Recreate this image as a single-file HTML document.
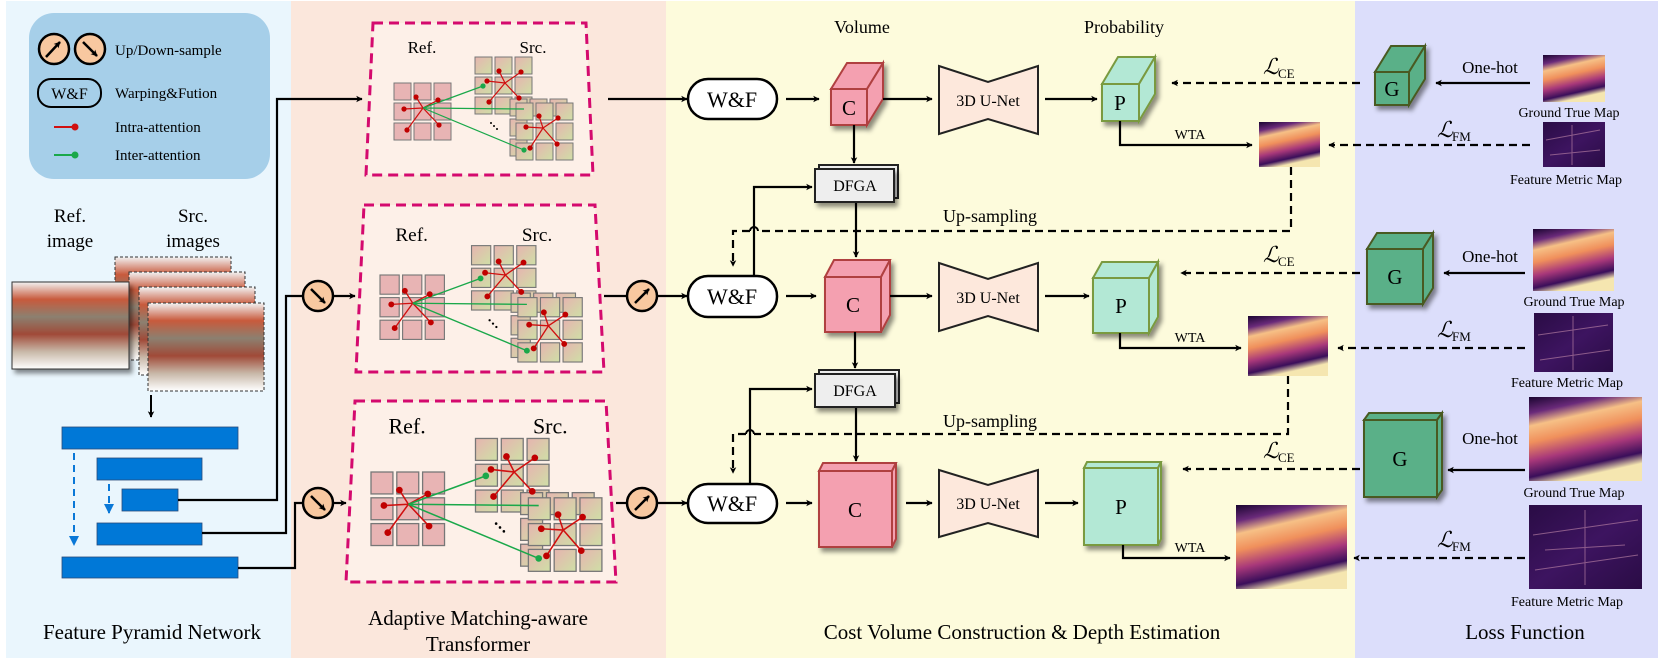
<!DOCTYPE html>
<html><head><meta charset="utf-8"><style>
html,body{margin:0;padding:0;background:#fff;}
svg{display:block;}
svg text{font-family:"Liberation Serif","DejaVu Serif",serif;}
svg text.ls{font-family:"DejaVu Serif",serif;}
</style></head><body>
<svg width="1660" height="661" viewBox="0 0 1660 661" xmlns="http://www.w3.org/2000/svg" font-family="Liberation Serif, DejaVu Serif, serif">
<defs>
<marker id="ah" viewBox="0 0 10 10" refX="9" refY="5" markerWidth="5" markerHeight="5" orient="auto" markerUnits="userSpaceOnUse" style="overflow:visible">
<path d="M0,0 L10,5 L0,10 L2.5,5 z" fill="#000" transform="scale(1.3) translate(-2,-1.2)"/></marker>
<marker id="ab" viewBox="0 0 10 10" refX="9" refY="5" markerWidth="10" markerHeight="10" orient="auto" markerUnits="userSpaceOnUse">
<path d="M0,0 L10,5 L0,10 z" fill="#0a78d7"/></marker>
<filter id="sh" x="-20%" y="-20%" width="150%" height="150%"><feDropShadow dx="3" dy="4" stdDeviation="2.5" flood-color="#000" flood-opacity="0.45"/></filter>
<linearGradient id="srcg" x1="0" y1="0" x2="1" y2="1"><stop offset="0" stop-color="#e6b4b0"/><stop offset="1" stop-color="#cfdfa6"/></linearGradient>
<linearGradient id="dep" x1="0" y1="0" x2="0.3" y2="1"><stop offset="0" stop-color="#1a0530"/><stop offset="0.18" stop-color="#6a2a7a"/><stop offset="0.32" stop-color="#f6c086"/><stop offset="0.5" stop-color="#f0905c"/><stop offset="0.7" stop-color="#a8387a"/><stop offset="0.88" stop-color="#3a0e5a"/><stop offset="1" stop-color="#f5e6b0"/></linearGradient>
<linearGradient id="fm" x1="0" y1="0" x2="1" y2="1"><stop offset="0" stop-color="#2a0c45"/><stop offset="0.5" stop-color="#3d1460"/><stop offset="1" stop-color="#2a0c45"/></linearGradient>
<linearGradient id="bld" x1="0" y1="0" x2="0" y2="1"><stop offset="0" stop-color="#f2f2f2"/><stop offset="0.2" stop-color="#c85a3c"/><stop offset="0.4" stop-color="#8c8070"/><stop offset="0.6" stop-color="#a04a38"/><stop offset="0.8" stop-color="#c8b8a8"/><stop offset="1" stop-color="#ffffff"/></linearGradient>
<g id="att">
 <g stroke="#777" stroke-width="1">
  <g fill="#e8b4b4">
   <rect x="0" y="0" width="17" height="17"/><rect x="20" y="0" width="17" height="17"/><rect x="40" y="0" width="17" height="17"/>
   <rect x="0" y="20" width="17" height="17"/><rect x="20" y="20" width="17" height="17"/><rect x="40" y="20" width="17" height="17"/>
   <rect x="0" y="40" width="17" height="17"/><rect x="20" y="40" width="17" height="17"/><rect x="40" y="40" width="17" height="17"/>
  </g>
  <g fill="url(#srcg)" transform="translate(81,-26)">
   <rect x="0" y="0" width="17" height="17"/><rect x="20" y="0" width="17" height="17"/><rect x="40" y="0" width="17" height="17"/>
   <rect x="0" y="20" width="17" height="17"/><rect x="20" y="20" width="17" height="17"/><rect x="40" y="20" width="17" height="17"/>
   <rect x="0" y="40" width="17" height="17"/><rect x="20" y="40" width="17" height="17"/><rect x="40" y="40" width="17" height="17"/>
  </g>
  <g fill="url(#srcg)" transform="translate(116,16)">
   <rect x="0" y="0" width="17" height="17"/><rect x="20" y="0" width="17" height="17"/><rect x="40" y="0" width="17" height="17"/>
   <rect x="0" y="20" width="17" height="17"/><rect x="0" y="40" width="17" height="17"/>
  </g>
  <g fill="url(#srcg)" transform="translate(122,20)">
   <rect x="0" y="0" width="17" height="17"/><rect x="20" y="0" width="17" height="17"/><rect x="40" y="0" width="17" height="17"/>
   <rect x="0" y="20" width="17" height="17"/><rect x="20" y="20" width="17" height="17"/><rect x="40" y="20" width="17" height="17"/>
   <rect x="0" y="40" width="17" height="17"/><rect x="20" y="40" width="17" height="17"/><rect x="40" y="40" width="17" height="17"/>
  </g>
 </g>
 <g stroke="#d01010" stroke-width="1.2" fill="none">
  <path d="M29,25 L22,14 M29,25 L44,17 M29,25 L10,26 M29,25 L13,47 M29,25 L45,42"/>
  <path d="M111,0 L93,-2 M111,0 L105,-12 M111,0 L127,-11 M111,0 L95,19 M111,0 L125,15"/>
  <path d="M149,45 L145,33 M149,45 L164,35 M149,45 L132,44 M149,45 L136,65 M149,45 L163,61"/>
 </g>
 <g stroke="#1aa84a" stroke-width="1.2"><path d="M29,25 L89,3 M29,25 L130,26 M29,25 L130,67"/></g>
 <g fill="#c00000">
  <circle cx="22" cy="14" r="2.6"/><circle cx="44" cy="17" r="2.6"/><circle cx="10" cy="26" r="2.6"/><circle cx="13" cy="47" r="2.6"/><circle cx="45" cy="42" r="2.6"/>
  <circle cx="93" cy="-2" r="2.6"/><circle cx="105" cy="-12" r="2.6"/><circle cx="127" cy="-11" r="2.6"/><circle cx="95" cy="19" r="2.6"/><circle cx="125" cy="15" r="2.6"/>
  <circle cx="145" cy="33" r="2.6"/><circle cx="164" cy="35" r="2.6"/><circle cx="132" cy="44" r="2.6"/><circle cx="136" cy="65" r="2.6"/><circle cx="163" cy="61" r="2.6"/>
 </g>
 <g fill="#1aa84a"><circle cx="89" cy="3" r="2.6"/><circle cx="130" cy="67" r="2.6"/></g>
 <g fill="#000"><circle cx="97" cy="40" r="1"/><circle cx="100" cy="43" r="1"/><circle cx="103" cy="46" r="1"/></g>
 <text x="28" y="-30" font-size="17" text-anchor="middle">Ref.</text>
 <text x="139" y="-30" font-size="17" text-anchor="middle">Src.</text>
</g>
</defs>

<rect x="6" y="1" width="285" height="657" fill="#eaf6fd"/>
<rect x="291" y="1" width="375" height="657" fill="#fbe7dc"/>
<rect x="666" y="1" width="689" height="657" fill="#fdfbdc"/>
<rect x="1355" y="1" width="303" height="657" fill="#dcdefb"/>

<rect x="29" y="13" width="241" height="166" rx="25" fill="#a6cfe9"/>
<g stroke="#000" stroke-width="2.5" fill="#f8c8a0">
<circle cx="54" cy="49" r="15"/><circle cx="90" cy="49" r="15"/></g>
<g stroke="#000" stroke-width="2.5" marker-end="url(#ah)"><path d="M46,57 L60,42"/><path d="M83,42 L97,56"/></g>
<text x="115" y="55" font-size="15">Up/Down-sample</text>
<rect x="38" y="79" width="63" height="28" rx="13" fill="none" stroke="#000" stroke-width="2"/>
<text x="69.5" y="99" font-size="16" text-anchor="middle">W&amp;F</text>
<text x="115" y="98" font-size="15">Warping&amp;Fution</text>
<path d="M54,127 L74,127" stroke="#d01010" stroke-width="2"/><circle cx="75" cy="127" r="3.5" fill="#d01010"/>
<text x="115" y="132" font-size="15">Intra-attention</text>
<path d="M54,155 L74,155" stroke="#1aa84a" stroke-width="2"/><circle cx="75" cy="155" r="3.5" fill="#1aa84a"/>
<text x="115" y="160" font-size="15">Inter-attention</text>

<text x="70" y="222" font-size="19" text-anchor="middle">Ref.</text>
<text x="70" y="247" font-size="19" text-anchor="middle">image</text>
<text x="193" y="222" font-size="19" text-anchor="middle">Src.</text>
<text x="193" y="247" font-size="19" text-anchor="middle">images</text>
<g stroke="#333" stroke-width="1" stroke-dasharray="3 2">
<rect x="115" y="257" width="116" height="88" fill="url(#bld)"/>
<rect x="129" y="272" width="116" height="88" fill="url(#bld)"/>
<rect x="139" y="287" width="116" height="88" fill="url(#bld)"/>
<rect x="148" y="303" width="116" height="88" fill="url(#bld)"/>
</g>
<rect x="12" y="282" width="117" height="87" fill="url(#bld)" stroke="#333" stroke-width="1" filter="url(#sh)"/>
<path d="M151,395 L151,417" stroke="#000" stroke-width="2" marker-end="url(#ah)"/>

<g fill="#0078d7" stroke="#2a4a7a" stroke-width="0.8">
<rect x="62" y="427" width="176" height="22"/><rect x="97" y="458" width="105" height="22"/>
<rect x="122" y="489" width="56" height="22"/><rect x="97" y="523" width="105" height="22"/>
<rect x="62" y="557" width="176" height="21"/></g>
<g stroke="#0a78d7" stroke-width="2" stroke-dasharray="7 5" fill="none">
<path d="M74,453 L74,545" marker-end="url(#ab)"/><path d="M109,484 L109,513" marker-end="url(#ab)"/></g>
<g stroke="#000" stroke-width="2.2" fill="none">
<path d="M178,500 L277,500 L277,99 L362,99" marker-end="url(#ah)"/>
<path d="M202,533 L286,533 L286,296 L302,296"/>
<path d="M238,568 L295,568 L295,503 L302,503"/>
<path d="M334,296 L355,296" marker-end="url(#ah)"/>
<path d="M334,503 L346,503" marker-end="url(#ah)"/>
</g>
<g stroke="#000" stroke-width="2.5" fill="#f8c8a0"><circle cx="318" cy="296" r="15"/><circle cx="318" cy="503" r="15"/></g>
<g stroke="#000" stroke-width="2.5" marker-end="url(#ah)"><path d="M311,289 L325,303"/><path d="M311,496 L325,510"/></g>

<g fill="#fdf0e8" stroke="#d40a6e" stroke-width="3" stroke-dasharray="10 6">
<path d="M373,23 L586,23 L593,175 L366,175 Z"/>
<path d="M364,205 L595,205 L604,372 L356,372 Z"/>
<path d="M355,401 L606,401 L616,582 L346,582 Z"/>
</g>
<use href="#att" transform="translate(394,83)"/>
<use href="#att" transform="translate(380,275) scale(1.13)"/>
<use href="#att" transform="translate(371,472) scale(1.29)"/>

<text x="478" y="625" font-size="21" text-anchor="middle">Adaptive Matching-aware</text>
<text x="478" y="651" font-size="21" text-anchor="middle">Transformer</text>
<text x="152" y="639" font-size="21" text-anchor="middle">Feature Pyramid Network</text>

<g stroke="#000" stroke-width="2.2" fill="none">
<path d="M608,99 L687,99" marker-end="url(#ah)"/>
<path d="M604,296 L627,296"/><path d="M658,296 L687,296" marker-end="url(#ah)"/>
<path d="M616,503 L627,503"/><path d="M658,503 L687,503" marker-end="url(#ah)"/>
</g>
<g stroke="#000" stroke-width="2.5" fill="#f8c8a0"><circle cx="642" cy="296" r="15"/><circle cx="642" cy="503" r="15"/></g>
<g stroke="#000" stroke-width="2.5" marker-end="url(#ah)"><path d="M635,303 L649,289"/><path d="M635,510 L649,496"/></g>

<g fill="#fff" stroke="#000" stroke-width="2.5">
<rect x="688" y="79" width="89" height="40" rx="20"/>
<rect x="688" y="276" width="89" height="41" rx="20"/>
<rect x="688" y="484" width="89" height="39" rx="20"/></g>
<g font-size="22" text-anchor="middle"><text x="732" y="107">W&amp;F</text><text x="732" y="304">W&amp;F</text><text x="732" y="511">W&amp;F</text></g>

<text x="862" y="33" font-size="18" text-anchor="middle">Volume</text>
<text x="1124" y="33" font-size="18" text-anchor="middle">Probability</text>

<g stroke="#b04040" stroke-width="2" fill="#f4a0b0" filter="url(#sh)">
<g><rect x="831" y="89" width="36" height="36"/><polygon points="831,89 847,63 883,63 867,89"/><polygon points="867,89 883,63 883,99 867,125"/></g>
<g><rect x="825" y="277" width="56" height="55"/><polygon points="825,277 834,260 890,260 881,277"/><polygon points="881,277 890,260 890,315 881,332"/></g>
<g><rect x="819" y="471" width="73" height="76"/><polygon points="819,471 823,463 896,463 892,471"/><polygon points="892,471 896,463 896,539 892,547"/></g>
</g>
<g font-size="21" text-anchor="middle"><text x="849" y="115">C</text><text x="853" y="312">C</text><text x="855" y="517">C</text></g>

<g fill="#fde8dc" stroke="#222" stroke-width="2">
<polygon points="939,66 988,82 1038,66 1038,134 988,119 939,134"/>
<polygon points="939,263 988,279 1038,263 1038,331 988,316 939,331"/>
<polygon points="939,470 988,485 1038,470 1038,537 988,523 939,537"/></g>
<g font-size="16" text-anchor="middle"><text x="988" y="106">3D U-Net</text><text x="988" y="303">3D U-Net</text><text x="988" y="509">3D U-Net</text></g>

<g stroke="#7a9a40" stroke-width="2" fill="#b3e8d5" filter="url(#sh)">
<g><rect x="1102" y="84" width="37" height="37"/><polygon points="1102,84 1118,57 1155,57 1139,84"/><polygon points="1139,84 1155,57 1155,94 1139,121"/></g>
<g><rect x="1093" y="278" width="56" height="55"/><polygon points="1093,278 1102,262 1158,262 1149,278"/><polygon points="1149,278 1158,262 1158,317 1149,333"/></g>
<g><rect x="1084" y="468" width="74" height="77"/><polygon points="1084,468 1087,462 1161,462 1158,468"/><polygon points="1158,468 1161,462 1161,539 1158,545"/></g>
</g>
<g font-size="21" text-anchor="middle"><text x="1120" y="110">P</text><text x="1121" y="313">P</text><text x="1121" y="514">P</text></g>

<g stroke="#000" stroke-width="2.2" fill="none" marker-end="url(#ah)">
<path d="M786,99 L819,99"/><path d="M786,296 L816,296"/><path d="M786,503 L812,503"/>
<path d="M883,99 L932,99"/><path d="M890,296 L932,296"/><path d="M906,503 L932,503"/>
<path d="M1045,99 L1097,99"/><path d="M1045,296 L1089,296"/><path d="M1045,503 L1078,503"/>
<path d="M854,125 L854,163"/><path d="M855,332 L855,368"/>
<path d="M856,202 L856,257"/><path d="M856,407 L856,461"/>
<path d="M754,276 L754,187 L812,187"/><path d="M750,483 L750,389 L812,389"/>
<path d="M1120,121 L1120,145 L1252,145"/><path d="M1120,333 L1120,348 L1241,348"/><path d="M1123,545 L1123,558 L1230,558"/>
</g>
<g font-size="14" text-anchor="middle"><text x="1190" y="139">WTA</text><text x="1190" y="342">WTA</text><text x="1190" y="552">WTA</text></g>

<g fill="#eee" stroke="#222" stroke-width="2">
<rect x="819" y="165" width="79" height="33"/><rect x="815" y="169" width="79" height="33" filter="url(#sh)"/>
<rect x="819" y="370" width="80" height="33"/><rect x="815" y="374" width="80" height="33" filter="url(#sh)"/></g>
<g font-size="16" text-anchor="middle"><text x="855" y="191">DFGA</text><text x="855" y="396">DFGA</text></g>

<g stroke="#000" stroke-width="2.2" fill="none" stroke-dasharray="8 5">
<path d="M1291,167 L1291,231 L758,231 M750,231 L733,231 L733,266" marker-end="url(#ah)"/>
<path d="M1288,376 L1288,434 L754,434 M746,434 L733,434 L733,473" marker-end="url(#ah)"/>
</g>
<path d="M750,231 A4,4 0 0 1 758,231" stroke="#000" stroke-width="2" fill="none"/>
<path d="M746,434 A4,4 0 0 1 754,434" stroke="#000" stroke-width="2" fill="none"/>
<g font-size="18" text-anchor="middle"><text x="990" y="222">Up-sampling</text><text x="990" y="427">Up-sampling</text></g>

<rect x="1259" y="122" width="61" height="45" fill="url(#dep)"/>
<rect x="1248" y="316" width="80" height="60" fill="url(#dep)"/>
<rect x="1236" y="505" width="111" height="84" fill="url(#dep)"/>

<g stroke="#000" stroke-width="2.2" fill="none" stroke-dasharray="8 5" marker-end="url(#ah)">
<path d="M1360,83 L1172,83"/><path d="M1360,273 L1181,273"/><path d="M1360,469 L1183,469"/>
<path d="M1530,145 L1329,145"/><path d="M1525,348 L1338,348"/><path d="M1525,558 L1354,558"/>
</g>
<g font-size="22" font-style="italic">
<text class="ls" x="1263" y="74">ℒ</text><text class="ls" x="1263" y="262">ℒ</text><text class="ls" x="1263" y="458">ℒ</text>
<text class="ls" x="1437" y="137">ℒ</text><text class="ls" x="1437" y="337">ℒ</text><text class="ls" x="1437" y="547">ℒ</text></g>
<g font-size="13">
<text x="1278" y="78">CE</text><text x="1278" y="266">CE</text><text x="1278" y="462">CE</text>
<text x="1452" y="141">FM</text><text x="1452" y="341">FM</text><text x="1452" y="551">FM</text></g>

<g stroke="#4a5a20" stroke-width="2" fill="#5ab088" filter="url(#sh)">
<g><rect x="1375" y="72" width="34" height="33"/><polygon points="1375,72 1391,46 1425,46 1409,72"/><polygon points="1409,72 1425,46 1425,79 1409,105"/></g>
<g><rect x="1367" y="249" width="56" height="55"/><polygon points="1367,249 1377,233 1433,233 1423,249"/><polygon points="1423,249 1433,233 1433,288 1423,304"/></g>
<g><rect x="1364" y="420" width="73" height="77"/><polygon points="1364,420 1369,413 1442,413 1437,420"/><polygon points="1437,420 1442,413 1442,490 1437,497"/></g>
</g>
<g font-size="21" text-anchor="middle"><text x="1392" y="96">G</text><text x="1395" y="284">G</text><text x="1400" y="466">G</text></g>

<g stroke="#000" stroke-width="2.2" fill="none" marker-end="url(#ah)">
<path d="M1530,83 L1436,83"/><path d="M1525,273 L1444,273"/><path d="M1525,470 L1448,470"/></g>
<g font-size="17" text-anchor="middle"><text x="1490" y="73">One-hot</text><text x="1490" y="262">One-hot</text><text x="1490" y="444">One-hot</text></g>

<rect x="1543" y="55" width="62" height="47" fill="url(#dep)"/>
<rect x="1543" y="122" width="62" height="45" fill="url(#fm)"/>
<rect x="1533" y="229" width="81" height="62" fill="url(#dep)"/>
<rect x="1534" y="313" width="79" height="59" fill="url(#fm)"/>
<rect x="1529" y="397" width="113" height="84" fill="url(#dep)"/>
<rect x="1529" y="505" width="113" height="84" fill="url(#fm)"/>
<g fill="none" stroke="#b07aa0" stroke-width="1" opacity="0.7">
<path d="M1546,140 L1600,130 M1550,155 L1600,150 M1572,125 L1572,165"/>
<path d="M1538,335 L1608,325 M1540,360 L1610,350 M1573,316 L1573,370"/>
<path d="M1533,535 L1638,520 M1535,570 L1638,555 M1585,510 L1585,585 M1545,550 L1625,545"/>
</g>
<g font-size="14" text-anchor="middle">
<text x="1569" y="117">Ground True Map</text><text x="1566" y="184">Feature Metric Map</text>
<text x="1574" y="306">Ground True Map</text><text x="1567" y="387">Feature Metric Map</text>
<text x="1574" y="497">Ground True Map</text><text x="1567" y="606">Feature Metric Map</text></g>

<text x="1022" y="639" font-size="21" text-anchor="middle">Cost Volume Construction &amp; Depth Estimation</text>
<text x="1525" y="639" font-size="21" text-anchor="middle">Loss Function</text>
</svg>
</body></html>
